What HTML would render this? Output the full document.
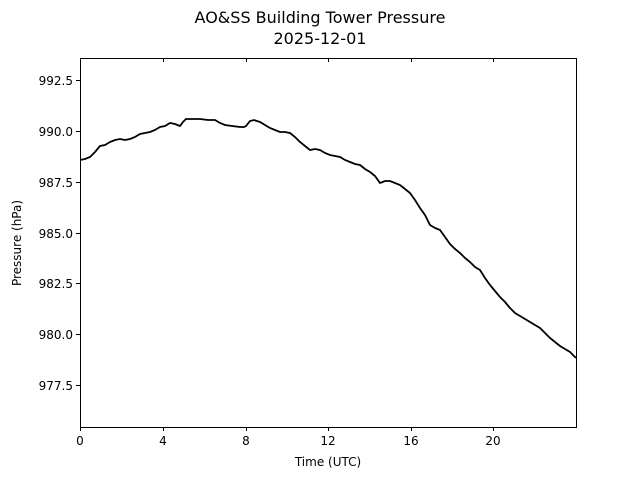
<!DOCTYPE html>
<html><head><meta charset="utf-8"><style>body{margin:0;background:#fff}svg{display:block}text{font-family:"DejaVu Sans","Liberation Sans",sans-serif;fill:#000}</style></head>
<body>
<svg width="640" height="480" viewBox="0 0 640 480">
<text x="320" y="23" font-size="16" text-anchor="middle">AO&amp;SS Building Tower Pressure</text>
<text x="320" y="44" font-size="16" text-anchor="middle">2025-12-01</text>
<polyline fill="none" stroke="#000" stroke-width="1.8" points="80,160 85,159 90,157 95,152 100,146 105,145 110,142 115,140 120,139 125,140 130,139 135,137 140,134 145,133 150,132 155,130 160,127 165,126 170,123 175,124 180,126 183,122 186,119 193,119 200,119 208,120 215,120 220,123 225,125 232,126 240,127 244,127 246,126 250,121 254,120 260,122 265,125 270,128 275,130 280,132 285,132 290,133 295,137 300,142 305,146 310,150 315,149 320,150 325,153 330,155 335,156 340,157 345,160 350,162 355,164 360,165 365,169 370,172 375,176 380,183 385,181 390,181 395,183 400,185 405,189 410,193 415,200 420,208 425,215 430,225 435,228 440,230 445,237 450,244 455,249 460,253 465,258 470,262 475,267 480,270 485,278 490,285 495,291 500,297 505,302 510,308 515,313 520,316 525,319 530,322 535,325 540,328 545,333 550,338 555,342 560,346 565,349 570,352 573,355 576,358"/>
<rect x="80.5" y="58.5" width="496" height="369" fill="none" stroke="#000" stroke-width="1"/>
<g stroke="#000" stroke-width="1">
<line x1="80.5" y1="427" x2="80.5" y2="431"/><line x1="163.5" y1="427" x2="163.5" y2="431"/><line x1="246.5" y1="427" x2="246.5" y2="431"/><line x1="328.5" y1="427" x2="328.5" y2="431"/><line x1="411.5" y1="427" x2="411.5" y2="431"/><line x1="493.5" y1="427" x2="493.5" y2="431"/>
<line x1="163.5" y1="58" x2="163.5" y2="62"/><line x1="246.5" y1="58" x2="246.5" y2="62"/><line x1="328.5" y1="58" x2="328.5" y2="62"/><line x1="411.5" y1="58" x2="411.5" y2="62"/><line x1="493.5" y1="58" x2="493.5" y2="62"/>
<line x1="76" y1="80.5" x2="80" y2="80.5"/><line x1="76" y1="131.5" x2="80" y2="131.5"/><line x1="76" y1="182.5" x2="80" y2="182.5"/><line x1="76" y1="233.5" x2="80" y2="233.5"/><line x1="76" y1="283.5" x2="80" y2="283.5"/><line x1="76" y1="334.5" x2="80" y2="334.5"/><line x1="76" y1="385.5" x2="80" y2="385.5"/>
</g>
<g font-size="12" text-anchor="middle">
<text x="80" y="445">0</text><text x="163" y="445">4</text><text x="246" y="445">8</text><text x="328" y="445">12</text><text x="411" y="445">16</text><text x="493" y="445">20</text>
<text x="328" y="466">Time (UTC)</text>
</g>
<g font-size="12" text-anchor="end">
<text x="73" y="85">992.5</text><text x="73" y="136">990.0</text><text x="73" y="187">987.5</text><text x="73" y="238">985.0</text><text x="73" y="288">982.5</text><text x="73" y="339">980.0</text><text x="73" y="390">977.5</text>
</g>
<text transform="translate(21,243) rotate(-90)" font-size="12" text-anchor="middle">Pressure (hPa)</text>
</svg>
</body></html>
